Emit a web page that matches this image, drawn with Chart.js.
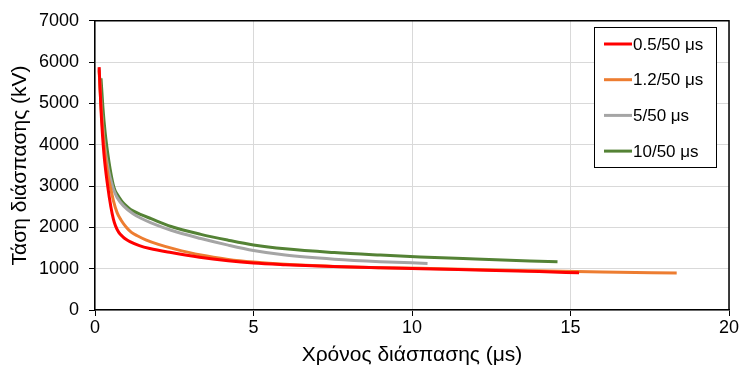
<!DOCTYPE html>
<html>
<head>
<meta charset="utf-8">
<script src="https://cdn.jsdelivr.net/npm/chart.js@4"></script>
<style>
html,body{margin:0;padding:0;background:#fff;}
#wrap{width:742px;height:376px;position:relative;}
</style>
</head>
<body>
<div id="wrap"><canvas id="c" width="742" height="376"></canvas></div>
<script>
// ---- data ----
const seriesLabels = ['0.5/50 μs', '1.2/50 μs', '5/50 μs', '10/50 μs'];
const seriesColors = ['#ff0000', '#ed7d31', '#a5a5a5', '#548235'];

const tRed = [0.13, 0.2, 0.28, 0.4, 0.5, 0.58, 0.65, 0.75, 0.88, 1.0, 1.1, 1.4, 1.73, 2.4, 3.3, 4.2, 5.0, 6.0, 7.5, 9.0, 10.3, 12.0, 14.0, 15.27];
const vRed = [5880, 4700, 3800, 3000, 2500, 2200, 2030, 1880, 1770, 1700, 1655, 1560, 1490, 1390, 1275, 1190, 1135, 1095, 1050, 1020, 1000, 968, 930, 900];

const tOrange = [0.13, 0.2, 0.3, 0.4, 0.48, 0.58, 0.7, 0.82, 0.98, 1.15, 1.35, 1.6, 2.0, 2.5, 3.34, 4.2, 5.0, 6.0, 7.55, 9.0, 10.26, 12.0, 14.0, 16.0, 18.35];
const vOrange = [5800, 4800, 3900, 3300, 3000, 2650, 2350, 2180, 2010, 1880, 1790, 1700, 1590, 1480, 1330, 1225, 1160, 1105, 1055, 1025, 1010, 978, 948, 920, 895];

const tGray = [0.13, 0.2, 0.3, 0.42, 0.55, 0.62, 0.7, 0.9, 1.2, 1.45, 1.77, 2.4, 3.34, 4.2, 5.0, 6.0, 7.55, 9.0, 10.49];
const vGray = [5850, 4900, 4000, 3400, 3000, 2850, 2720, 2520, 2330, 2220, 2110, 1930, 1730, 1570, 1440, 1330, 1230, 1170, 1128];

const tGreen = [0.19, 0.25, 0.32, 0.4, 0.48, 0.57, 0.63, 0.7, 0.85, 1.05, 1.2, 1.45, 1.77, 2.4, 3.34, 4.2, 5.0, 6.0, 7.55, 9.0, 10.26, 12.0, 14.59];
const vGreen = [5610, 4900, 4300, 3800, 3400, 3050, 2900, 2800, 2630, 2480, 2400, 2310, 2210, 2020, 1830, 1690, 1575, 1480, 1390, 1330, 1285, 1235, 1165];

const xTickValues = [0, 5, 10, 15, 20];
const yTickValues = [0, 1000, 2000, 3000, 4000, 5000, 6000, 7000];
const xTitle = 'Χρόνος διάσπασης (μs)';
const yTitle = 'Τάση διάσπασης (kV)';

// ---- build datasets ----
function pts(ts, vs) { return ts.map((t, i) => ({x: t, y: vs[i]})); }
const allT = [tRed, tOrange, tGray, tGreen];
const allV = [vRed, vOrange, vGray, vGreen];
const datasets = seriesLabels.map((lab, i) => ({
  label: lab,
  data: pts(allT[i], allV[i]),
  borderColor: seriesColors[i],
  backgroundColor: seriesColors[i],
  borderWidth: 3,
  pointRadius: 0,
  showLine: true,
  fill: false,
  cubicInterpolationMode: 'monotone'
}));

const FONT = "'Liberation Sans', Arial, sans-serif";

const framePlugin = {
  id: 'frame',
  afterDatasetsDraw(chart) {
    const a = chart.chartArea, ctx = chart.ctx;
    ctx.save();
    ctx.strokeStyle = '#000';
    ctx.lineWidth = 1.5;
    ctx.beginPath();
    ctx.moveTo(a.left, a.top);
    ctx.lineTo(a.right, a.top);
    ctx.lineTo(a.right, a.bottom);
    ctx.stroke();
    ctx.restore();
  }
};

const legendPlugin = {
  id: 'boxLegend',
  afterDraw(chart) {
    const ctx = chart.ctx;
    const x0 = 594, y0 = 27, x1 = 716, y1 = 167;
    ctx.save();
    ctx.fillStyle = '#fff';
    ctx.fillRect(x0, y0, x1 - x0, y1 - y0);
    ctx.strokeStyle = '#000';
    ctx.lineWidth = 1;
    ctx.strokeRect(x0 + 0.5, y0 + 0.5, x1 - x0, y1 - y0);
    ctx.font = '17px ' + FONT;
    ctx.textBaseline = 'middle';
    ctx.textAlign = 'left';
    chart.data.datasets.forEach((ds, i) => {
      const y = 44 + i * 35.7;
      ctx.strokeStyle = ds.borderColor;
      ctx.lineWidth = 3;
      ctx.beginPath();
      ctx.moveTo(604, y);
      ctx.lineTo(632, y);
      ctx.stroke();
      ctx.fillStyle = '#000';
      ctx.fillText(ds.label, 633, y + 1);
    });
    ctx.restore();
  }
};

new Chart(document.getElementById('c'), {
  type: 'scatter',
  data: { datasets },
  plugins: [framePlugin, legendPlugin],
  options: {
    responsive: false,
    animation: false,
    devicePixelRatio: 1,
    layout: { padding: { top: 15, right: 13, left: 0, bottom: 0 } },
    plugins: { legend: { display: false }, tooltip: { enabled: false } },
    scales: {
      x: {
        type: 'linear', min: 0, max: 20,
        afterBuildTicks(s) { s.ticks = xTickValues.map(v => ({value: v})); },
        afterFit(s) { s.height = 66; },
        grid: { color: '#d9d9d9', lineWidth: 1, drawTicks: true, tickLength: 6, tickColor: '#000' },
        border: { color: '#000', width: 1.5 },
        ticks: { color: '#000', font: { size: 18, family: FONT }, padding: 1, maxRotation: 0, callback: v => String(v) },
        title: { display: true, text: xTitle, color: '#000', font: { size: 21, family: FONT }, padding: { top: 0, bottom: 8 } }
      },
      y: {
        type: 'linear', min: 0, max: 7000,
        afterBuildTicks(s) { s.ticks = yTickValues.map(v => ({value: v})); },
        afterFit(s) { s.width = 95; },
        grid: { color: '#d9d9d9', lineWidth: 1, drawTicks: true, tickLength: 6, tickColor: '#000' },
        border: { color: '#000', width: 1.5 },
        ticks: { color: '#000', font: { size: 18, family: FONT }, padding: 10, callback: v => String(v) },
        title: { display: true, text: yTitle, color: '#000', font: { size: 21, family: FONT }, padding: { top: 8, bottom: 0 } }
      }
    }
  }
});
</script>
</body>
</html>
